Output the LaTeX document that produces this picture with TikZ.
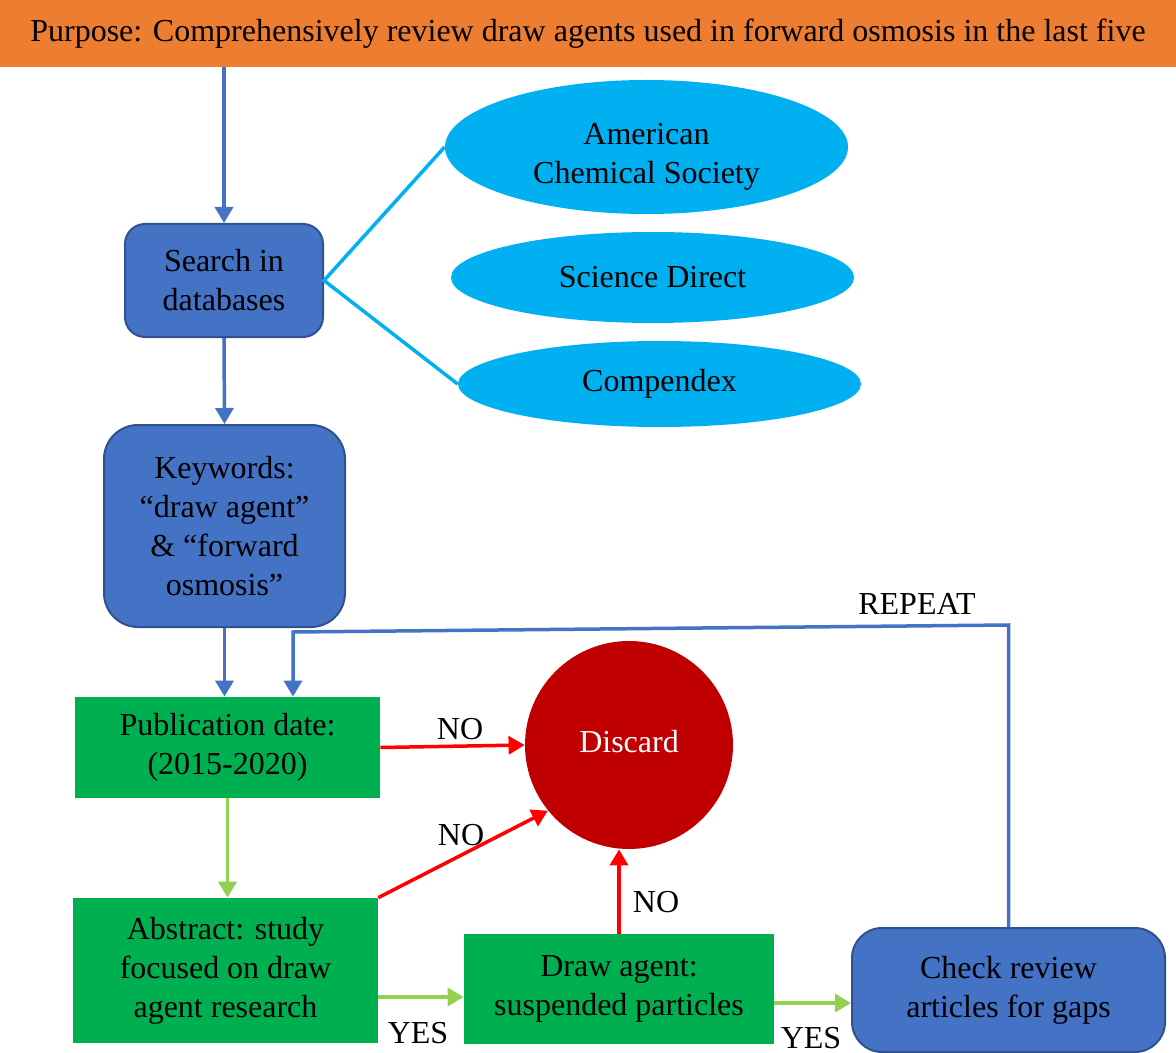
\documentclass[tikz,border=0pt]{standalone}
\usepackage{fontspec}
\setmainfont{Liberation Serif}
\usepackage{tikz}
\usetikzlibrary{arrows.meta,shapes.geometric}
\definecolor{bannerorange}{HTML}{ED7D31}
\definecolor{boxblue}{HTML}{4472C4}
\definecolor{edgeblue}{HTML}{2F528F}
\definecolor{dbcyan}{HTML}{00B0F0}
\definecolor{stepgreen}{HTML}{00B050}
\definecolor{yesgreen}{HTML}{92D050}
\definecolor{discardred}{HTML}{C00000}
\newcommand{\lw}{1.75pt}
\newcommand{\tip}{-{Triangle[length=8pt,width=9pt]}}

\begin{document}
\begin{tikzpicture}[x=0.5pt, y=-0.5pt,
  every node/.style={font=\fontsize{16}{19.5}\selectfont, align=center, inner sep=0pt},
  bluebox/.style={draw=edgeblue, line width=1pt, fill=boxblue, rounded corners=10pt},
  greenbox/.style={fill=stepgreen},
  dbellipse/.style={ellipse, fill=dbcyan, minimum width=201.5pt},
  bluearrow/.style={draw=boxblue, line width=\lw, \tip},
  greenarrow/.style={draw=yesgreen, line width=\lw, \tip},
  redarrow/.style={draw=red, line width=\lw, \tip}]
\useasboundingbox (0,0) rectangle (1176,1053);
%banner
\node[fill=bannerorange, minimum width=588pt, minimum height=33.5pt] (purpose) at (588, 33.5)
  {Purpose: Comprehensively review draw agents used in forward osmosis in the last five};
%databases
\node[bluebox, minimum width=99pt, minimum height=56.5pt] (search) at (224, 280.5) {Search in\\databases};
\node[dbellipse, minimum height=67pt] (acs) at (646.5, 147) {\rule{0pt}{20pt}American\\Chemical Society};
\node[dbellipse, minimum height=45.5pt] (sd) at (652.5, 277.5) {Science Direct};
\node[dbellipse, minimum height=43pt] (compendex) at (659.5, 384) {\raisebox{-2pt}{Compendex}};
\node[bluebox, rounded corners=17pt, minimum width=120.5pt, minimum height=101pt] (keywords) at (224.5, 526)
  {Keywords:\\“draw agent”\\\& “forward\\osmosis”};
%screening
\node[greenbox, minimum width=152.5pt, minimum height=50.5pt] (pubdate) at (227.5, 747.5) {Publication date:\\(2015-2020)};
\node[greenbox, minimum width=152.5pt, minimum height=72.5pt] (abstract) at (225.5, 970.5) {Abstract: study\\focused on draw\\agent research};
\node[greenbox, minimum width=155pt, minimum height=55pt] (drawagent) at (619, 989) {Draw agent:\\suspended particles};
\node[circle, fill=discardred, text=white, minimum size=104pt] (discard) at (629, 745) {\raisebox{4pt}{Discard}};
\node[bluebox, rounded corners=15pt, minimum width=156.5pt, minimum height=62pt] (check) at (1008.5, 990) {Check review\\articles for gaps};
%labels
\node (repeatlbl) at (917, 604) {REPEAT};
\node (no1) at (460, 729) {NO};
\node (no2) at (461, 835) {NO};
\node (no3) at (656, 902) {NO};
\node (yes1) at (418, 1033) {YES};
\node (yes2) at (811, 1038) {YES};
%connectors
\draw[bluearrow] (search.north |- purpose.south) -- (search.north);
\draw[dbcyan, line width=\lw] (acs.west) -- (search.east) -- (compendex.west);
\draw[bluearrow] (search.south) -- (keywords.north);
\draw[bluearrow] (keywords.south) -- (keywords.south |- pubdate.north);
\coordinate (looptop) at (check.north |- 0,625);
\coordinate (loopleft) at (293, 632);
\draw[bluearrow] (check.north) -- (looptop) -- (loopleft) -- (loopleft |- pubdate.north);
\draw[redarrow] (pubdate.east) -- (discard.west);
\draw[greenarrow] (pubdate.south) -- (pubdate.south |- abstract.north);
\draw[redarrow] (abstract.north east) -- (discard.219);
\draw[greenarrow, transform canvas={yshift=-4pt}] (abstract.east |- drawagent.west) -- (drawagent.west);
\draw[redarrow] (drawagent.north) -- (drawagent.north |- discard.south);
\draw[greenarrow, transform canvas={yshift=-7pt}] (drawagent.east) -- (drawagent.east -| check.west);
\end{tikzpicture}
\end{document}
